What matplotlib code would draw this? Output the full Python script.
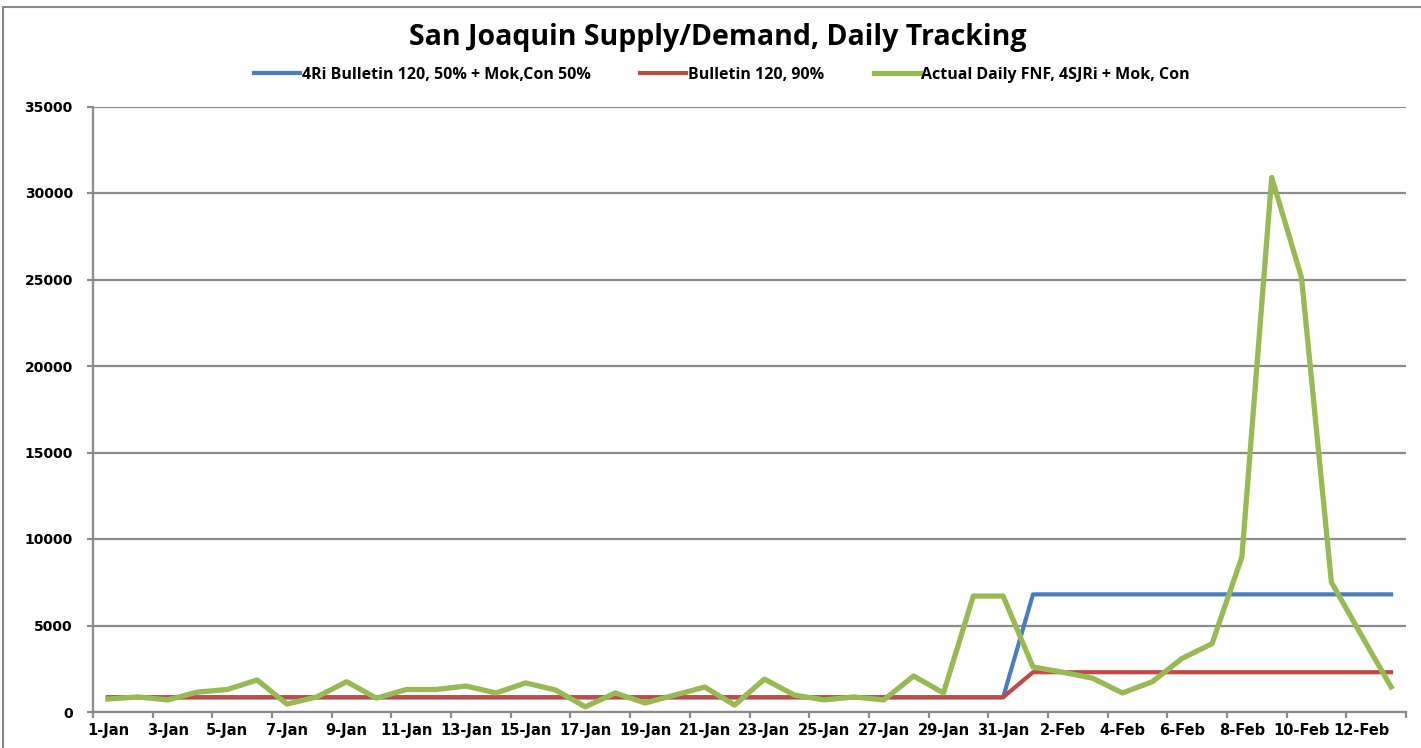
import matplotlib.pyplot as plt
import matplotlib.patches as mpatches
import numpy as np
import pandas as pd

# daily categories 1-Jan .. 13-Feb
dates = pd.date_range("2017-01-01", "2017-02-13")
labels = [f"{d.day}-{d.strftime('%b')}" for d in dates]

blue_vals = [850] * 31 + [6800] * 13
red_vals = [850] * 31 + [2300] * 13
green_vals = [750, 870, 700, 1150, 1300, 1850, 460, 870, 1750, 800,
              1300, 1300, 1500, 1100, 1680, 1270, 300, 1100, 520, 980,
              1440, 400, 1900, 980, 700, 870, 700, 2080, 1100, 6700,
              6700, 2600, 2300, 1950, 1100, 1750, 3100, 3950, 8960, 30900,
              25100, 7500, 4450, 1450]

series_names = ["4Ri Bulletin 120, 50% + Mok,Con 50%",
                "Bulletin 120, 90%",
                "Actual Daily FNF, 4SJRi + Mok, Con"]

x = np.arange(len(labels))

fig = plt.figure(figsize=(14.21, 7.48), dpi=100)
ax = fig.add_axes([93 / 1421, 1 - 712 / 748, (1406 - 93) / 1421, (712 - 106.5) / 748])

# chart border
fig.patches.append(mpatches.Rectangle((3 / 1421, -0.01), 1.1, 1 - 7 / 748 + 0.01,
                                      transform=fig.transFigure, fill=False,
                                      edgecolor="#888888", lw=1.5))

ax.plot(x, blue_vals, color="#4a7ebb", lw=3, label=series_names[0], zorder=3)
ax.plot(x, red_vals, color="#be4b48", lw=3, label=series_names[1], zorder=4)
ax.plot(x, green_vals, color="#98b954", lw=3.8, label=series_names[2], zorder=5)

ax.set_xlim(-0.5, len(labels) - 0.5)
ax.set_ylim(0, 35000)
ax.set_yticks(np.arange(0, 35001, 5000))
ax.yaxis.grid(True, color="#8c8c8c", lw=1.6)
ax.set_axisbelow(True)

ax.set_xticks(x[::2])
ax.set_xticklabels(labels[::2])
ax.set_xticks(np.arange(-0.5, len(labels), 2), minor=True)
ax.tick_params(axis="x", which="major", length=0, pad=8)
ax.tick_params(axis="x", which="minor", length=4.5, width=1.6, color="#8c8c8c")
ax.tick_params(axis="y", length=4.5, width=1.6, color="#8c8c8c", pad=10)

for lab in ax.get_xticklabels():
    lab.set_fontweight("bold")
    lab.set_fontsize(10.5)
for lab in ax.get_yticklabels():
    lab.set_fontweight("bold")
    lab.set_fontsize(10)

for side in ["top", "right"]:
    ax.spines[side].set_visible(False)
for side in ["left", "bottom"]:
    ax.spines[side].set_color("#8c8c8c")
    ax.spines[side].set_linewidth(1.6)

fig.text(0.505, 1 - 38 / 748, "San Joaquin Supply/Demand, Daily Tracking",
         ha="center", va="center", fontsize=20.5, fontweight="bold", family="Open Sans")

fig.legend(loc="center", bbox_to_anchor=(0.508, 1 - 75 / 748), ncol=3, frameon=False,
           handlelength=2.9, columnspacing=3.1, handletextpad=0.1,
           prop={"family": "Open Sans", "weight": "bold", "size": 11.5})

fig.savefig("out.png", dpi=100)
